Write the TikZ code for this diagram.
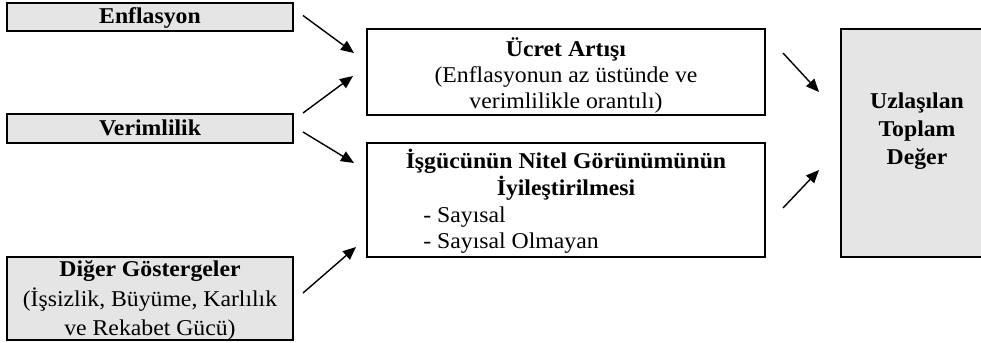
\documentclass[tikz,border=0pt]{standalone}
\usepackage{fontspec}
\setmainfont[FakeStretch=1.05]{Liberation Serif}
\usetikzlibrary{arrows.meta,calc}

\tikzset{
  kutu/.style={draw,line width=1pt,inner sep=0pt},
  gri/.style={kutu,fill=gray!20},
  ok/.style={-{Triangle[length=6.5pt,width=5.5pt]},line width=0.7pt},
  yazi/.style={align=center,inner sep=0pt,font=\fontsize{11.3}{13}\selectfont},
}

\begin{document}
\begin{tikzpicture}[x=0.5pt,y=-0.5pt]
  \useasboundingbox (0,0) rectangle (981,343);
  % sol kutular
  \node[gri,yazi,text depth=0.1em,minimum width=143pt,minimum height=14pt] (enf) at (150,16.5) {\textbf{Enflasyon}};
  \node[gri,yazi,text depth=0.1em,minimum width=143pt,minimum height=14.5pt] (ver) at (150,128.5) {\textbf{Verimlilik}};
  \node[gri,minimum width=143pt,minimum height=41.5pt] (dig) at (150,298.5) {};
  \node[yazi,font=\fontsize{11.3}{14.6}\selectfont] (digT) at (150,300.5) {\textbf{Diğer Göstergeler}\\(İşsizlik, Büyüme, Karlılık\\ve Rekabet Gücü)};
  % orta kutular
  \node[kutu,minimum width=199pt,minimum height=43pt] (ucr) at (566,72) {};
  \node[yazi] (ucrT) at (566,75.5) {\textbf{Ücret Artışı}\\(Enflasyonun az üstünde ve\\verimlilikle orantılı)};
  \node[kutu,minimum width=199pt,minimum height=57pt] (isg) at (566,200) {};
  \node[yazi,font=\bfseries\fontsize{11.3}{13.3}\selectfont] (isgT) at (566,175) {İşgücünün Nitel Görünümünün\\İyileştirilmesi};
  \node[yazi,align=left,anchor=west,font=\fontsize{11.3}{13.3}\selectfont] (isgL) at (423,230) {- Sayısal\\- Sayısal Olmayan};
  % sağ kutu
  \node[gri,minimum width=76pt,minimum height=114pt] (uzl) at (917,143) {};
  \node[yazi,font=\bfseries\fontsize{11.3}{14}\selectfont] (uzlT) at (917,131) {Uzlaşılan\\Toplam\\Değer};
  % oklar
  \draw[ok] ($(enf.east)+(9,-1)$) -- ($(ucr.west)+(-12,-19)$);
  \draw[ok] ($(ver.east)+(9,-15.5)$) -- ($(ucr.west)+(-13,4)$);
  \draw[ok] ($(ver.east)+(9,3.5)$) -- ($(isg.west)+(-12,-37)$);
  \draw[ok] ($(dig.east)+(9,-5.5)$) -- ($(isg.west)+(-10,47)$);
  \draw[ok] ($(ucr.east)+(17,-19)$) -- ($(uzl.west)+(-21,-51)$);
  \draw[ok] ($(isg.east)+(17,8)$) -- ($(uzl.west)+(-21,27)$);
\end{tikzpicture}
\end{document}
